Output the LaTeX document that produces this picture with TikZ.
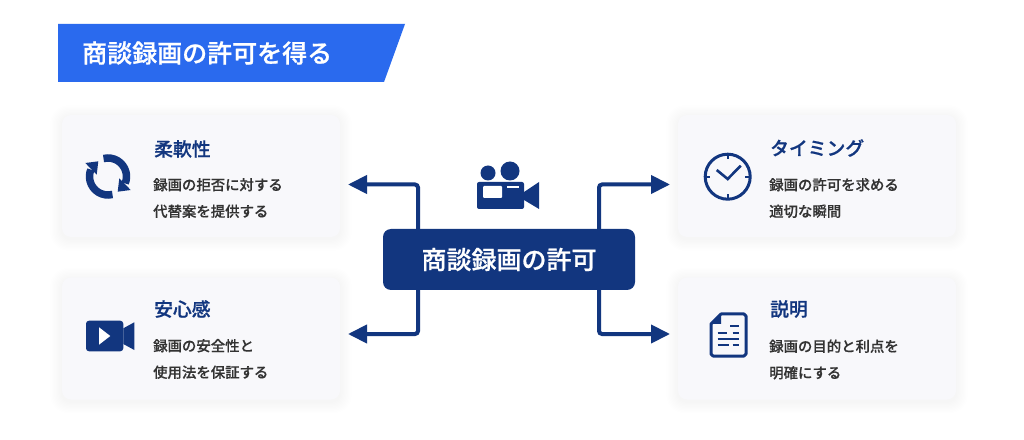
\documentclass[tikz,border=0pt]{standalone}
\usepackage{fontspec}
\setmainfont{Noto Sans CJK JP}
\newfontfamily\midfont[FakeBold=0.25]{Noto Sans CJK JP Medium}
\newfontfamily\headfont[FakeBold=0.8]{Noto Sans CJK JP Medium}
\usetikzlibrary{arrows.meta}
\definecolor{bannerblue}{HTML}{2A6AEE}
\definecolor{darknavy}{HTML}{12367F}
\definecolor{cardgray}{HTML}{F8F8FB}
\definecolor{bodygray}{HTML}{333333}
\tikzset{
  card/.style={rectangle, rounded corners=9pt, fill=cardgray, minimum width=278pt, minimum height=122pt, inner sep=0pt},
  cardtitle/.style={anchor=west, inner sep=0pt, text=darknavy, font=\fontsize{18.8pt}{22pt}\selectfont\headfont},
  cardbody/.style={anchor=west, inner sep=0pt, align=left, text=bodygray, font=\fontsize{14.4pt}{26.5pt}\selectfont\midfont},
  hub/.style={rectangle, rounded corners=8pt, fill=darknavy, text=white, minimum width=252pt, minimum height=61pt, inner sep=0pt, font=\fontsize{25pt}{28pt}\selectfont\headfont},
  banner/.style={anchor=west, inner sep=0pt, text=white, font=\fontsize{25pt}{28pt}\selectfont\headfont},
  link/.style={line width=4pt, darknavy, rounded corners=3pt, -{Triangle[length=19pt,width=18pt]}},
  iconline/.style={line width=3pt, darknavy},
}
\newcommand\cardshadow[2]{
  \foreach \s in {1,...,9}
    \fill[black, opacity=.004, rounded corners=9pt + \s * 1pt]
      (#1 - 139 - 1.3 * \s, #2 - 61 - 1.3 * \s - 2) rectangle (#1 + 139 + 1.3 * \s, #2 + 61 + 1.3 * \s - 2) ;
}
\newcommand\featurecard[3]{
  \cardshadow{#2}{#3}
  \node[card] (#1) at (#2, #3) {} ;
}
\begin{document}
\begin{tikzpicture}[x=1pt, y=1pt]
    \useasboundingbox (0, 0) rectangle (1024, 439) ;
    \fill[white] (0, 0) rectangle (1024, 439) ;
    % banner
    \fill[bannerblue] (58, 415) -- (405, 415) -- (384, 357) -- (58, 357) -- cycle ;
    \node[banner] (bannertext) at (82, 386) {商談録画の許可を得る} ;
    % cards
    \featurecard{flexcard}{201}{263}
    \featurecard{safecard}{201}{100.5}
    \featurecard{timecard}{817}{263}
    \featurecard{explaincard}{817}{100.5}
    \node[cardtitle] (flextitle) at (154, 290) {柔軟性} ;
    \node[cardbody] (flexbody) at (153, 241) {録画の拒否に対する\\代替案を提供する} ;
    \node[cardtitle] (safetitle) at (154, 130) {安心感} ;
    \node[cardbody] (safebody) at (153, 80) {録画の安全性と\\使用法を保証する} ;
    \node[cardtitle] (timetitle) at (770, 291) {タイミング} ;
    \node[cardbody] (timebody) at (769, 241) {録画の許可を求める\\適切な瞬間} ;
    \node[cardtitle] (explaintitle) at (770, 130) {説明} ;
    \node[cardbody] (explainbody) at (769, 79.5) {録画の目的と利点を\\明確にする} ;
    % hub and links
    \node[hub] (hubnode) at (509, 179.5) {商談録画の許可} ;
    \coordinate (tipA) at (348, 254.5) ;
    \coordinate (tipB) at (348, 105) ;
    \coordinate (tipC) at (670, 254.5) ;
    \coordinate (tipD) at (670, 105) ;
    \coordinate (trunkL) at (418, 179.5) ;
    \coordinate (trunkR) at (599, 179.5) ;
    \draw[link] (hubnode.north -| trunkL) |- (tipA) ;
    \draw[link] (hubnode.south -| trunkL) |- (tipB) ;
    \draw[link] (hubnode.north -| trunkR) |- (tipC) ;
    \draw[link] (hubnode.south -| trunkR) |- (tipD) ;
    % movie camera
    \fill[darknavy, rounded corners=2pt] (477, 230) rectangle (524, 257) ;
    \fill[darknavy] (524, 247) -- (539, 257) -- (539, 230) -- (524, 239) -- cycle ;
    \fill[darknavy] (488, 266) circle (7.5) ;
    \fill[darknavy] (510, 268) circle (9.5) ;
    \fill[white, rounded corners=1pt] (483, 241) rectangle (502, 253) ;
    \fill[white] (507, 251.3) rectangle (519, 252.7) ;
    % cycle arrows
    \begin{scope}[shift={(108, 262.5)}]
      \draw[line width=7.5pt, darknavy] (104:18.5) arc (104:-22:18.5) ;
      \draw[line width=7.5pt, darknavy] (-76:18.5) arc (-76:-202:18.5) ;
      \fill[darknavy] (11.3, -1.8) -- (9.7, -15.2) -- (22.7, -13.5) -- cycle ;
      \fill[darknavy] (-11.3, 1.8) -- (-9.7, 15.2) -- (-22.7, 13.5) -- cycle ;
    \end{scope}
    % video
    \fill[darknavy, rounded corners=3pt] (86, 87.7) rectangle (123.3, 118.3) ;
    \fill[darknavy] (123.3, 110.7) -- (134.3, 116.7) -- (134.3, 89) -- (123.3, 95) -- cycle ;
    \fill[white] (99, 111.7) -- (99, 94.3) -- (110.3, 103) -- cycle ;
    % clock
    \draw[iconline] (727.7, 262.3) circle (22.5) ;
    \foreach \a in {0, 90, 180, 270}
      \draw[darknavy, line width=2pt] (727.7, 262.3) ++(\a:22) -- ++(\a:-4.5) ;
    \draw[iconline, line width=2.6pt] (716.7, 269) -- (727.7, 260) -- (740.7, 273.3) ;
    % document
    \draw[iconline, line join=round] (721, 125) -- (744, 125) -- (746, 123) -- (746, 85) -- (744, 83) -- (713, 83) -- (711, 85) -- (711, 115) -- cycle ;
    \fill[darknavy] (721, 125) -- (721, 115) -- (711, 115) -- cycle ;
    \draw[darknavy, line width=2pt] (730, 113) -- (739, 113)
      (717.7, 106.3) -- (726.7, 106.3) (732.7, 106.3) -- (739, 106.3)
      (717.7, 100) -- (739, 100)
      (717.7, 93.7) -- (729.3, 93.7) (732.7, 93.7) -- (739, 93.7) ;
  \end{tikzpicture}
\end{document}
